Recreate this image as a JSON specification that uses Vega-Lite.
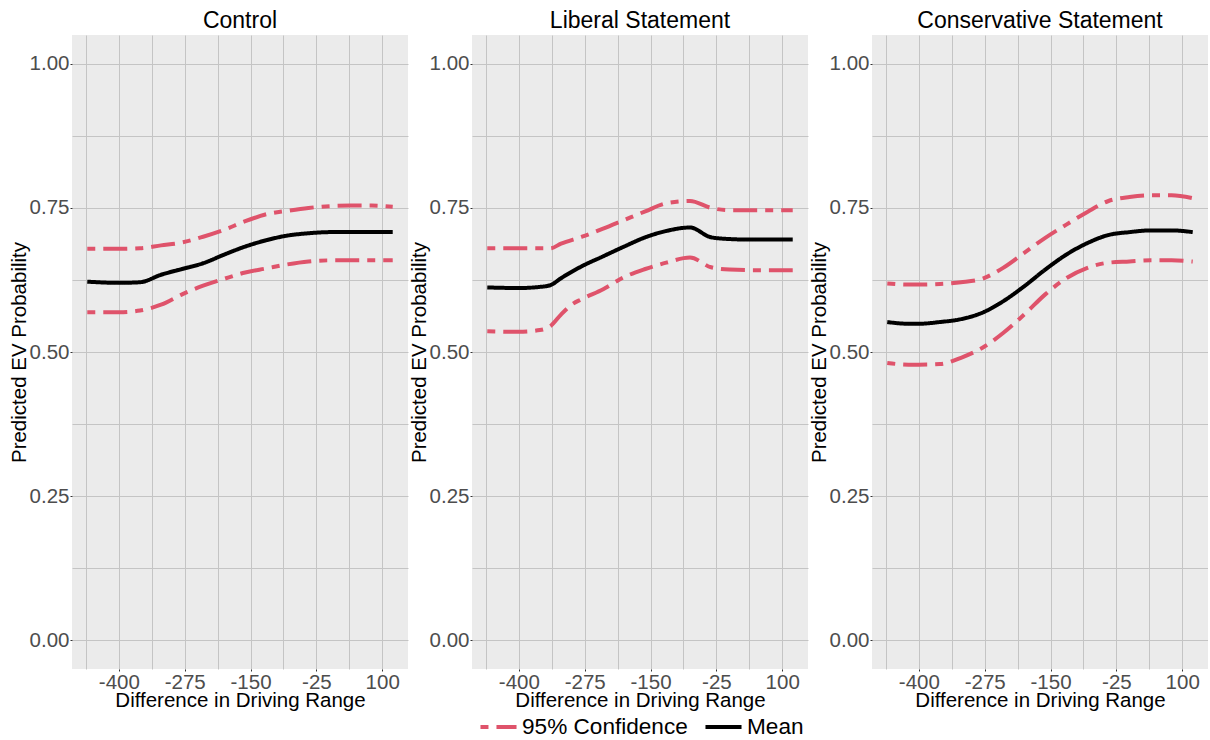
{
  "$schema": "https://vega.github.io/schema/vega-lite/v6.json",
  "background": "white",
  "padding": {"left": 9, "top": 10, "right": 0, "bottom": 0},
  "datasets": {
    "d": [
      {"p":"Control","s":"Mean","b":"m","x":-460,"y":0.622},
      {"p":"Control","s":"Mean","b":"m","x":-400,"y":0.620},
      {"p":"Control","s":"Mean","b":"m","x":-360,"y":0.621},
      {"p":"Control","s":"Mean","b":"m","x":-320,"y":0.634},
      {"p":"Control","s":"Mean","b":"m","x":-280,"y":0.644},
      {"p":"Control","s":"Mean","b":"m","x":-240,"y":0.654},
      {"p":"Control","s":"Mean","b":"m","x":-200,"y":0.669},
      {"p":"Control","s":"Mean","b":"m","x":-160,"y":0.683},
      {"p":"Control","s":"Mean","b":"m","x":-120,"y":0.694},
      {"p":"Control","s":"Mean","b":"m","x":-80,"y":0.702},
      {"p":"Control","s":"Mean","b":"m","x":-40,"y":0.706},
      {"p":"Control","s":"Mean","b":"m","x":0,"y":0.708},
      {"p":"Control","s":"Mean","b":"m","x":40,"y":0.708},
      {"p":"Control","s":"Mean","b":"m","x":80,"y":0.708},
      {"p":"Control","s":"Mean","b":"m","x":120,"y":0.708},
      {"p":"Control","s":"95% Confidence","b":"u","x":-460,"y":0.679},
      {"p":"Control","s":"95% Confidence","b":"u","x":-400,"y":0.679},
      {"p":"Control","s":"95% Confidence","b":"u","x":-360,"y":0.680},
      {"p":"Control","s":"95% Confidence","b":"u","x":-320,"y":0.685},
      {"p":"Control","s":"95% Confidence","b":"u","x":-280,"y":0.690},
      {"p":"Control","s":"95% Confidence","b":"u","x":-240,"y":0.700},
      {"p":"Control","s":"95% Confidence","b":"u","x":-200,"y":0.712},
      {"p":"Control","s":"95% Confidence","b":"u","x":-160,"y":0.727},
      {"p":"Control","s":"95% Confidence","b":"u","x":-120,"y":0.739},
      {"p":"Control","s":"95% Confidence","b":"u","x":-80,"y":0.745},
      {"p":"Control","s":"95% Confidence","b":"u","x":-40,"y":0.750},
      {"p":"Control","s":"95% Confidence","b":"u","x":0,"y":0.753},
      {"p":"Control","s":"95% Confidence","b":"u","x":40,"y":0.754},
      {"p":"Control","s":"95% Confidence","b":"u","x":80,"y":0.754},
      {"p":"Control","s":"95% Confidence","b":"u","x":120,"y":0.752},
      {"p":"Control","s":"95% Confidence","b":"l","x":-460,"y":0.569},
      {"p":"Control","s":"95% Confidence","b":"l","x":-400,"y":0.569},
      {"p":"Control","s":"95% Confidence","b":"l","x":-360,"y":0.572},
      {"p":"Control","s":"95% Confidence","b":"l","x":-320,"y":0.582},
      {"p":"Control","s":"95% Confidence","b":"l","x":-280,"y":0.600},
      {"p":"Control","s":"95% Confidence","b":"l","x":-240,"y":0.615},
      {"p":"Control","s":"95% Confidence","b":"l","x":-200,"y":0.627},
      {"p":"Control","s":"95% Confidence","b":"l","x":-160,"y":0.638},
      {"p":"Control","s":"95% Confidence","b":"l","x":-120,"y":0.645},
      {"p":"Control","s":"95% Confidence","b":"l","x":-80,"y":0.652},
      {"p":"Control","s":"95% Confidence","b":"l","x":-40,"y":0.657},
      {"p":"Control","s":"95% Confidence","b":"l","x":0,"y":0.659},
      {"p":"Control","s":"95% Confidence","b":"l","x":40,"y":0.659},
      {"p":"Control","s":"95% Confidence","b":"l","x":80,"y":0.659},
      {"p":"Control","s":"95% Confidence","b":"l","x":120,"y":0.659},

      {"p":"Liberal Statement","s":"Mean","b":"m","x":-460,"y":0.612},
      {"p":"Liberal Statement","s":"Mean","b":"m","x":-400,"y":0.611},
      {"p":"Liberal Statement","s":"Mean","b":"m","x":-360,"y":0.613},
      {"p":"Liberal Statement","s":"Mean","b":"m","x":-340,"y":0.616},
      {"p":"Liberal Statement","s":"Mean","b":"m","x":-320,"y":0.628},
      {"p":"Liberal Statement","s":"Mean","b":"m","x":-280,"y":0.649},
      {"p":"Liberal Statement","s":"Mean","b":"m","x":-240,"y":0.666},
      {"p":"Liberal Statement","s":"Mean","b":"m","x":-200,"y":0.683},
      {"p":"Liberal Statement","s":"Mean","b":"m","x":-160,"y":0.699},
      {"p":"Liberal Statement","s":"Mean","b":"m","x":-120,"y":0.710},
      {"p":"Liberal Statement","s":"Mean","b":"m","x":-75,"y":0.716},
      {"p":"Liberal Statement","s":"Mean","b":"m","x":-35,"y":0.699},
      {"p":"Liberal Statement","s":"Mean","b":"m","x":0,"y":0.696},
      {"p":"Liberal Statement","s":"Mean","b":"m","x":40,"y":0.695},
      {"p":"Liberal Statement","s":"Mean","b":"m","x":80,"y":0.695},
      {"p":"Liberal Statement","s":"Mean","b":"m","x":120,"y":0.695},
      {"p":"Liberal Statement","s":"95% Confidence","b":"u","x":-460,"y":0.680},
      {"p":"Liberal Statement","s":"95% Confidence","b":"u","x":-400,"y":0.680},
      {"p":"Liberal Statement","s":"95% Confidence","b":"u","x":-360,"y":0.680},
      {"p":"Liberal Statement","s":"95% Confidence","b":"u","x":-340,"y":0.680},
      {"p":"Liberal Statement","s":"95% Confidence","b":"u","x":-320,"y":0.688},
      {"p":"Liberal Statement","s":"95% Confidence","b":"u","x":-280,"y":0.700},
      {"p":"Liberal Statement","s":"95% Confidence","b":"u","x":-240,"y":0.714},
      {"p":"Liberal Statement","s":"95% Confidence","b":"u","x":-200,"y":0.729},
      {"p":"Liberal Statement","s":"95% Confidence","b":"u","x":-160,"y":0.744},
      {"p":"Liberal Statement","s":"95% Confidence","b":"u","x":-120,"y":0.758},
      {"p":"Liberal Statement","s":"95% Confidence","b":"u","x":-75,"y":0.762},
      {"p":"Liberal Statement","s":"95% Confidence","b":"u","x":-35,"y":0.750},
      {"p":"Liberal Statement","s":"95% Confidence","b":"u","x":0,"y":0.746},
      {"p":"Liberal Statement","s":"95% Confidence","b":"u","x":40,"y":0.746},
      {"p":"Liberal Statement","s":"95% Confidence","b":"u","x":80,"y":0.746},
      {"p":"Liberal Statement","s":"95% Confidence","b":"u","x":120,"y":0.746},
      {"p":"Liberal Statement","s":"95% Confidence","b":"l","x":-460,"y":0.536},
      {"p":"Liberal Statement","s":"95% Confidence","b":"l","x":-400,"y":0.535},
      {"p":"Liberal Statement","s":"95% Confidence","b":"l","x":-360,"y":0.538},
      {"p":"Liberal Statement","s":"95% Confidence","b":"l","x":-340,"y":0.545},
      {"p":"Liberal Statement","s":"95% Confidence","b":"l","x":-320,"y":0.565},
      {"p":"Liberal Statement","s":"95% Confidence","b":"l","x":-300,"y":0.582},
      {"p":"Liberal Statement","s":"95% Confidence","b":"l","x":-280,"y":0.592},
      {"p":"Liberal Statement","s":"95% Confidence","b":"l","x":-240,"y":0.609},
      {"p":"Liberal Statement","s":"95% Confidence","b":"l","x":-200,"y":0.630},
      {"p":"Liberal Statement","s":"95% Confidence","b":"l","x":-160,"y":0.644},
      {"p":"Liberal Statement","s":"95% Confidence","b":"l","x":-120,"y":0.655},
      {"p":"Liberal Statement","s":"95% Confidence","b":"l","x":-75,"y":0.664},
      {"p":"Liberal Statement","s":"95% Confidence","b":"l","x":-35,"y":0.647},
      {"p":"Liberal Statement","s":"95% Confidence","b":"l","x":0,"y":0.643},
      {"p":"Liberal Statement","s":"95% Confidence","b":"l","x":40,"y":0.642},
      {"p":"Liberal Statement","s":"95% Confidence","b":"l","x":80,"y":0.642},
      {"p":"Liberal Statement","s":"95% Confidence","b":"l","x":120,"y":0.642},

      {"p":"Conservative Statement","s":"Mean","b":"m","x":-460,"y":0.552},
      {"p":"Conservative Statement","s":"Mean","b":"m","x":-420,"y":0.549},
      {"p":"Conservative Statement","s":"Mean","b":"m","x":-400,"y":0.549},
      {"p":"Conservative Statement","s":"Mean","b":"m","x":-360,"y":0.552},
      {"p":"Conservative Statement","s":"Mean","b":"m","x":-320,"y":0.557},
      {"p":"Conservative Statement","s":"Mean","b":"m","x":-280,"y":0.568},
      {"p":"Conservative Statement","s":"Mean","b":"m","x":-240,"y":0.588},
      {"p":"Conservative Statement","s":"Mean","b":"m","x":-200,"y":0.614},
      {"p":"Conservative Statement","s":"Mean","b":"m","x":-160,"y":0.643},
      {"p":"Conservative Statement","s":"Mean","b":"m","x":-120,"y":0.669},
      {"p":"Conservative Statement","s":"Mean","b":"m","x":-80,"y":0.689},
      {"p":"Conservative Statement","s":"Mean","b":"m","x":-40,"y":0.703},
      {"p":"Conservative Statement","s":"Mean","b":"m","x":0,"y":0.708},
      {"p":"Conservative Statement","s":"Mean","b":"m","x":40,"y":0.711},
      {"p":"Conservative Statement","s":"Mean","b":"m","x":80,"y":0.711},
      {"p":"Conservative Statement","s":"Mean","b":"m","x":120,"y":0.708},
      {"p":"Conservative Statement","s":"95% Confidence","b":"u","x":-460,"y":0.619},
      {"p":"Conservative Statement","s":"95% Confidence","b":"u","x":-420,"y":0.617},
      {"p":"Conservative Statement","s":"95% Confidence","b":"u","x":-400,"y":0.617},
      {"p":"Conservative Statement","s":"95% Confidence","b":"u","x":-360,"y":0.618},
      {"p":"Conservative Statement","s":"95% Confidence","b":"u","x":-320,"y":0.621},
      {"p":"Conservative Statement","s":"95% Confidence","b":"u","x":-280,"y":0.627},
      {"p":"Conservative Statement","s":"95% Confidence","b":"u","x":-240,"y":0.646},
      {"p":"Conservative Statement","s":"95% Confidence","b":"u","x":-200,"y":0.672},
      {"p":"Conservative Statement","s":"95% Confidence","b":"u","x":-160,"y":0.698},
      {"p":"Conservative Statement","s":"95% Confidence","b":"u","x":-120,"y":0.721},
      {"p":"Conservative Statement","s":"95% Confidence","b":"u","x":-80,"y":0.743},
      {"p":"Conservative Statement","s":"95% Confidence","b":"u","x":-40,"y":0.762},
      {"p":"Conservative Statement","s":"95% Confidence","b":"u","x":0,"y":0.769},
      {"p":"Conservative Statement","s":"95% Confidence","b":"u","x":40,"y":0.772},
      {"p":"Conservative Statement","s":"95% Confidence","b":"u","x":80,"y":0.772},
      {"p":"Conservative Statement","s":"95% Confidence","b":"u","x":120,"y":0.767},
      {"p":"Conservative Statement","s":"95% Confidence","b":"l","x":-460,"y":0.481},
      {"p":"Conservative Statement","s":"95% Confidence","b":"l","x":-420,"y":0.478},
      {"p":"Conservative Statement","s":"95% Confidence","b":"l","x":-400,"y":0.478},
      {"p":"Conservative Statement","s":"95% Confidence","b":"l","x":-360,"y":0.479},
      {"p":"Conservative Statement","s":"95% Confidence","b":"l","x":-320,"y":0.490},
      {"p":"Conservative Statement","s":"95% Confidence","b":"l","x":-280,"y":0.507},
      {"p":"Conservative Statement","s":"95% Confidence","b":"l","x":-240,"y":0.533},
      {"p":"Conservative Statement","s":"95% Confidence","b":"l","x":-200,"y":0.565},
      {"p":"Conservative Statement","s":"95% Confidence","b":"l","x":-160,"y":0.600},
      {"p":"Conservative Statement","s":"95% Confidence","b":"l","x":-120,"y":0.628},
      {"p":"Conservative Statement","s":"95% Confidence","b":"l","x":-80,"y":0.646},
      {"p":"Conservative Statement","s":"95% Confidence","b":"l","x":-40,"y":0.655},
      {"p":"Conservative Statement","s":"95% Confidence","b":"l","x":0,"y":0.657},
      {"p":"Conservative Statement","s":"95% Confidence","b":"l","x":40,"y":0.659},
      {"p":"Conservative Statement","s":"95% Confidence","b":"l","x":80,"y":0.659},
      {"p":"Conservative Statement","s":"95% Confidence","b":"l","x":120,"y":0.657}
    ]
  },
  "data": {"name": "d"},
  "facet": {
    "column": {
      "field": "p",
      "type": "nominal",
      "sort": ["Control", "Liberal Statement", "Conservative Statement"],
      "header": {"title": null, "labelFontSize": 23, "labelColor": "black", "labelFont": "Liberation Sans", "labelPadding": 2}
    }
  },
  "spacing": 1,
  "resolve": {"axis": {"y": "independent", "x": "independent"}},
  "spec": {
    "width": 336,
    "height": 634,
    "mark": {"type": "line", "strokeWidth": 4, "interpolate": "monotone"},
    "encoding": {
      "x": {
        "field": "x",
        "type": "quantitative",
        "scale": {"domain": [-489, 149], "nice": false, "zero": false},
        "axis": {
          "title": "Difference in Driving Range",
          "values": [-462.5, -400, -337.5, -275, -212.5, -150, -87.5, -25, 37.5, 100],
          "labelExpr": "(datum.value + 400) % 125 == 0 ? toString(datum.value) : ''",
          "tickOpacity": {"condition": {"test": "(datum.value + 400) % 125 == 0", "value": 1}, "value": 0},
          "titlePadding": -2
        }
      },
      "y": {
        "field": "y",
        "type": "quantitative",
        "scale": {"domain": [-0.05, 1.05], "nice": false, "zero": false},
        "axis": {
          "title": "Predicted EV Probability",
          "values": [0, 0.125, 0.25, 0.375, 0.5, 0.625, 0.75, 0.875, 1],
          "labelExpr": "(datum.value * 4) % 1 == 0 ? format(datum.value, '.2f') : ''",
          "tickOpacity": {"condition": {"test": "(datum.value * 4) % 1 == 0", "value": 1}, "value": 0},
          "titlePadding": 0
        }
      },
      "color": {
        "field": "s",
        "type": "nominal",
        "scale": {"domain": ["95% Confidence", "Mean"], "range": ["#DF536B", "#000000"]},
        "legend": {"title": null, "orient": "none", "legendX": 406, "legendY": 671}
      },
      "strokeDash": {
        "field": "s",
        "type": "nominal",
        "scale": {"domain": ["95% Confidence", "Mean"], "range": [[8, 8, 24, 8], [1, 0]]},
        "legend": {"title": null, "orient": "none", "legendX": 406, "legendY": 671}
      },
      "detail": {"field": "b", "type": "nominal"}
    }
  },
  "config": {
    "font": "Liberation Sans",
    "view": {"fill": "#EBEBEB", "stroke": null},
    "axis": {
      "domain": false,
      "labelFontSize": 20.5,
      "labelColor": "#4D4D4D",
      "labelPadding": 1,
      "titleFontSize": 20.5,
      "titleFontWeight": "normal",
      "titleColor": "black",
      "tickColor": "#333333",
      "tickSize": 2,
      "gridColor": "#C4C4C4",
      "gridWidth": 1
    },
    "legend": {
      "direction": "horizontal",
      "labelFontSize": 22.6,
      "labelColor": "black",
      "labelLimit": 400,
      "symbolType": "stroke",
      "symbolStrokeWidth": 4,
      "symbolSize": 1300,
      "columnPadding": 9,
      "labelOffset": 3,
      "padding": 0
    }
  }
}
